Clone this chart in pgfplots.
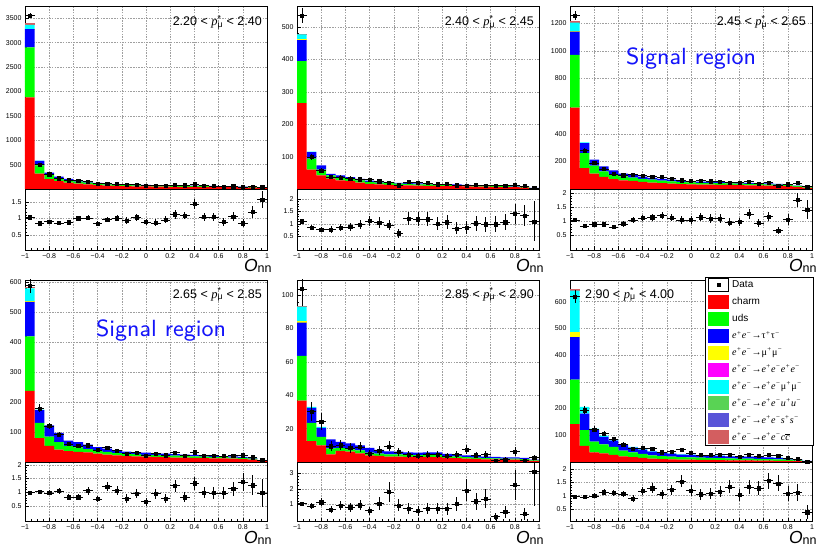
\documentclass[border=0pt]{standalone}
\usepackage{pgfplots}
\usepackage{pgfplotstable}
\pgfplotsset{compat=1.18}
\usepackage{fontspec}
\setmainfont{Liberation Sans}
\newfontfamily\serif{Liberation Serif}

\definecolor{cCharm}{RGB}{255,0,0}
\definecolor{cUds}{RGB}{0,255,0}
\definecolor{cTau}{RGB}{0,0,255}
\definecolor{cMu}{RGB}{255,255,0}
\definecolor{cEE}{RGB}{255,0,255}
\definecolor{cEmu}{RGB}{0,255,255}
\definecolor{cEu}{RGB}{89,211,84}
\definecolor{cEs}{RGB}{89,84,216}
\definecolor{cEc}{RGB}{211,94,96}
\definecolor{sigblue}{RGB}{20,20,250}

% columns: bin centre, charm, uds, tautau, mumu, eemumu, other (ee cc), data, data err, ratio, ratio err
\pgfplotstableread{
x c u t m e o d de r re
-0.96 1877 1027 370 5 84 47 3555 60 1.04 0.02
-0.88 315 171 89 0 5 0 500 22 0.86 0.04
-0.80 200 90 45 0 0 0 305 17 0.91 0.05
-0.72 160 65 30 0 0 0 222 15 0.87 0.06
-0.64 130 50 25 0 0 0 182 13.5 0.89 0.07
-0.56 110 40 20 0 0 0 172 13 1.01 0.08
-0.48 95 35 18 0 0 0 151 12.3 1.02 0.08
-0.40 80 30 16 0 0 0 107 10.3 0.85 0.08
-0.32 70 27 14 0 0 0 108 10.4 0.97 0.09
-0.24 63 25 13 0 0 0 102 10.1 1.01 0.10
-0.16 58 23 12 0 0 0 87 9.3 0.94 0.10
-0.08 54 21 11 0 0 0 89 9.4 1.04 0.11
0.00 52 20 10 0 0 0 74 8.6 0.90 0.10
0.08 50 19 10 0 0 0 69 8.3 0.87 0.10
0.16 48 18 9 0 0 0 72 8.5 0.96 0.11
0.24 46 17 9 0 0 0 81 9.0 1.13 0.13
0.32 45 17 8 0 0 0 76 8.7 1.09 0.12
0.40 44 16 8 0 0 0 98 9.9 1.44 0.15
0.48 42 15 8 0 0 0 68 8.2 1.05 0.13
0.56 40 15 7 0 0 0 65 8.1 1.05 0.13
0.64 38 14 7 0 0 0 53 7.3 0.90 0.12
0.72 36 13 6 0 0 0 58 7.6 1.06 0.14
0.80 33 12 6 0 0 0 44 6.6 0.86 0.13
0.88 28 10 5 0 0 0 52 7.2 1.20 0.17
0.96 16 6 3 0 0 0 39 6.2 1.57 0.25
}\tA
\pgfplotstableread{
x c u t m e o d de r re
-0.96 265 130 65 2 15 3 535 23 1.11 0.05
-0.88 60 34 20 0 1 0 99 10 0.85 0.09
-0.80 42 18 13 0 0 0 57 7.5 0.78 0.10
-0.72 32 10 5 0 0 0 37 6.1 0.78 0.13
-0.64 27 10 5 0 0 0 36 6.0 0.85 0.14
-0.56 24 8 5 0 0 0 33 5.7 0.88 0.15
-0.48 20 7 4 0 0 0 30 5.5 0.97 0.18
-0.40 16 6 3.5 0 0 0 28.5 5.3 1.12 0.21
-0.32 14.5 5.5 3 0 0 0 24 4.9 1.05 0.21
-0.24 13 5 3 0 0 0 20 4.5 0.95 0.21
-0.16 12 4.5 2.5 0 0 0 12 3.5 0.63 0.18
-0.08 11 4.5 2.5 0 0 0 22 4.7 1.22 0.26
0.00 10.5 4 2.5 0 0 0 20 4.5 1.19 0.27
0.08 10 4 2 0 0 0 19 4.4 1.19 0.27
0.16 9.5 3.5 2 0 0 0 15 3.9 1.00 0.26
0.24 9 3.5 2 0 0 0 15.5 3.9 1.07 0.27
0.32 8.5 3.5 2 0 0 0 11.5 3.4 0.82 0.24
0.40 8 3 2 0 0 0 11 3.3 0.85 0.26
0.48 7.5 3 1.5 0 0 0 12.4 3.5 1.03 0.30
0.56 7 2.8 1.5 0 0 0 11.2 3.3 0.99 0.30
0.64 6.5 2.5 1.5 0 0 0 10.4 3.2 0.99 0.31
0.72 6 2.5 1.3 0 0 0 10.5 3.2 1.07 0.33
0.80 5.5 2.2 1.3 0 0 0 12.7 3.6 1.41 0.40
0.88 4.5 1.8 1 0 0 0 9.7 3.1 1.33 0.43
0.96 2 0.8 0.4 0 0 0 3.5 1.9 1.10 0.80
}\tB
\pgfplotstableread{
x c u t m e o d de r re
-0.96 590 381 169 3 62 9 1255 35 1.04 0.03
-0.88 152 108 73 0 4 0 280 16.7 0.83 0.05
-0.80 111 58 43 0 0 0 188 13.7 0.89 0.07
-0.72 87 41 36 0 0 0 146 12 0.89 0.07
-0.64 72 32 31 0 0 0 108 10.4 0.80 0.08
-0.56 63 29 19 0 0 0 100 10 0.90 0.09
-0.48 58 25 17 0 0 0 104 10.2 1.04 0.10
-0.40 52 22 15 0 0 0 99 10 1.12 0.11
-0.32 47 20 13 0 0 0 91 9.5 1.14 0.12
-0.24 43 18 12 0 0 0 87 9.3 1.20 0.13
-0.16 39 17 11 0 0 0 75 8.7 1.12 0.13
-0.08 36 15 10 0 0 0 63 7.9 1.04 0.13
0.00 34 14 9 0 0 0 59 7.7 1.04 0.14
0.08 32 13 9 0 0 0 61 7.8 1.14 0.15
0.16 31 13 8 0 0 0 57 7.5 1.10 0.15
0.24 30 12 8 0 0 0 54 7.4 1.09 0.15
0.32 29 11 8 0 0 0 46 6.8 0.96 0.14
0.40 28 11 7 0 0 0 45 6.7 0.98 0.15
0.48 27 10 7 0 0 0 55 7.4 1.26 0.17
0.56 26 10 6 0 0 0 39 6.3 0.94 0.15
0.64 25 9 6 0 0 0 47 6.8 1.17 0.17
0.72 23 9 5 0 0 0 25 5.0 0.67 0.13
0.80 21 8 4 0 0 0 35 5.9 1.06 0.18
0.88 16 6 3 0 0 0 44 6.6 1.75 0.26
0.96 8 3 1 0 0 0 17 4.1 1.40 0.34
}\tC
\pgfplotstableread{
x c u t m e o d de r re
-0.96 238 182 115 3 42 3 590 24 1.00 0.04
-0.88 80 51 42 0 2 0 179 13.4 1.02 0.08
-0.80 54 31 37 0 0 0 120 11 0.98 0.09
-0.72 41 25 31 0 0 0 92 9.6 1.05 0.11
-0.64 36 18 17 0 0 0 60 7.7 0.82 0.11
-0.56 34 15 17 0 0 0 54 7.3 0.82 0.11
-0.48 32 11 15 0 0 0 56 7.5 1.06 0.14
-0.40 28 10 12 0 0 0 40 6.3 0.76 0.12
-0.32 25 9 11 0 0 0 48 6.9 1.21 0.17
-0.24 22 8 8 0 0 0 38 6.2 1.06 0.17
-0.16 20 7 8 0 0 0 28 5.3 0.78 0.15
-0.08 19 7 6 0 0 0 31 5.6 0.96 0.17
0.00 18 6 7 0 0 0 22 4.7 0.66 0.14
0.08 17 6 6 0 0 0 28 5.3 0.95 0.18
0.16 16 6 6 0 0 0 23 4.8 0.78 0.16
0.24 15 6 5 0 0 0 31 5.6 1.24 0.22
0.32 15 5 5 0 0 0 21 4.6 0.82 0.18
0.40 14 5 5 0 0 0 33 5.7 1.33 0.23
0.48 13 5 4 0 0 0 22 4.7 0.99 0.21
0.56 12 5 4 0 0 0 21 4.6 0.98 0.21
0.64 12 4 4 0 0 0 20 4.5 0.98 0.22
0.72 11 4 4 0 0 0 21 4.6 1.13 0.25
0.80 10 4 3 0 0 0 23 4.8 1.38 0.33
0.88 8 3 2 0 0 0 16 4.0 1.26 0.37
0.96 3.5 1.5 1 0 0 0 6 2.4 0.98 0.50
}\tD
\pgfplotstableread{
x c u t m e o d de r re
-0.96 36.8 26.8 19.9 1 8.5 0.6 103.6 10.2 1.06 0.11
-0.88 12.5 11 8.9 0 0.6 0 30.2 5.5 0.90 0.17
-0.80 10 5 5.5 0 0.5 0 24.3 4.9 1.15 0.24
-0.72 4.6 3.6 5.3 0 0 0 9.5 3.1 0.68 0.22
-0.64 6.6 1.9 3.6 0 0 0 10.1 3.2 0.92 0.29
-0.56 6.2 1.4 3.5 0 0 0 8.5 2.9 0.83 0.29
-0.48 5.2 1.8 3.0 0 0 0 9.1 3.0 0.96 0.32
-0.40 4.0 1.6 2.9 0 0 0 5.0 2.2 0.60 0.27
-0.32 3.6 1.4 2.2 0 0 0 7.0 2.6 1.06 0.40
-0.24 3.2 1.4 1.8 0 0 0 9.4 3.1 1.80 0.65
-0.16 3.2 1.3 1.7 0 0 0 6.0 2.4 0.94 0.38
-0.08 3.0 1.2 1.6 0 0 0 4.6 2.1 0.75 0.35
0.00 2.9 1.2 1.5 0 0 0 3.6 1.9 0.58 0.30
0.08 3.0 1.2 1.6 0 0 0 4.6 2.1 0.75 0.35
0.16 2.9 1.2 1.6 0 0 0 4.5 2.1 0.73 0.35
0.24 2.4 1.0 1.4 0 0 0 3.6 1.9 0.73 0.38
0.32 2.3 1.0 1.3 0 0 0 4.6 2.1 1.04 0.45
0.40 2.0 0.9 1.1 0 0 0 7.6 2.8 1.90 0.70
0.48 1.8 0.8 0.9 0 0 0 4.1 2.0 1.21 0.55
0.56 1.6 0.7 0.9 0 0 0 4.5 2.1 1.36 0.60
0.64 1.5 0.7 0.8 0 0 0 1.0 1.0 0.22 0.22
0.72 1.4 0.6 0.8 0 0 0 1.5 1.2 0.52 0.40
0.80 1.4 0.6 0.8 0 0 0 6.2 2.5 2.24 0.95
0.88 1.2 0.5 0.8 0 0 0 1.0 1.0 0.39 0.39
0.96 0.6 0.3 0.5 0 0 0 2.6 1.6 3.08 2.20
}\tE
\pgfplotstableread{
x c u t m e o d de r re
-0.96 142 166 159 19 155 5 619 25 0.97 0.04
-0.88 60 59 62 0 25 0 194 14 0.95 0.07
-0.80 36 40 43 0 6 0 122 11 0.99 0.09
-0.72 32 34 28 0 5 0 106 10.3 1.13 0.11
-0.64 27 30 23 0 4 0 86 9.3 1.10 0.12
-0.56 21 22 20 0 3 0 66 8.1 1.06 0.13
-0.48 18 18 18 0 3 0 50 7.1 0.89 0.13
-0.40 15 15 16 0 2 0 53 7.3 1.18 0.16
-0.32 13 12 14 0 2 0 50 7.1 1.28 0.18
-0.24 11 11 12 0 2 0 37 6.1 1.06 0.17
-0.16 10 10 11 0 1.5 0 40 6.3 1.22 0.19
-0.08 9 9 10 0 1 0 46 6.8 1.54 0.23
0.00 8.5 8.5 10 0 1 0 34 5.8 1.19 0.20
0.08 8 8 9 0 1 0 26 5.1 1.05 0.21
0.16 7.5 7.5 9 0 1 0 26 5.1 1.08 0.21
0.24 7 7.5 8.5 0 1 0 27 5.2 1.15 0.22
0.32 6.5 7 8 0 0.5 0 28 5.3 1.33 0.25
0.40 6 7 7.5 0 0.5 0 21 4.6 1.03 0.23
0.48 6 6.5 7.5 0 0.5 0 27 5.2 1.33 0.26
0.56 5.5 6 6.5 0 0.5 0 23 4.8 1.28 0.27
0.64 5 6 6 0 0.5 0 26 5.1 1.56 0.31
0.72 4.5 5.5 5.5 0 0.5 0 24 4.9 1.46 0.30
0.80 4 4.5 4.5 0 0.5 0 15 3.9 1.08 0.28
0.88 3 3 3 0 0.5 0 11 3.3 1.11 0.33
0.96 1.5 1.5 1.5 0 0 0 2 1.4 0.37 0.26
}\tF

\tikzset{
  ttl/.style={inner sep=0pt, font=\fontsize{12.5}{14}\selectfont},
  sig/.style={inner sep=0pt, anchor=base, text=sigblue},
}
\pgfplotsset{
  rbase/.style={scale only axis, width=242pt, xmin=-1, xmax=1, enlargelimits=false,
    scaled ticks=false, clip mode=individual,
    axis line style={line width=0.6pt, black},
    tick align=inside, tick pos=left,
    xtick={-1,-0.8,-0.6,-0.4,-0.2,0,0.2,0.4,0.6,0.8,1}, minor x tick num=3,
    major tick length=3.5pt, minor tick length=1.8pt,
    tick style={line width=0.4pt, black},
    grid=major, major grid style={gray!75, dash pattern=on 1.5pt off 1.2pt, line width=0.45pt},
    tick label style={font=\fontsize{7}{8}\selectfont},
    /pgf/number format/assume math mode=true, /pgf/number format/1000 sep={}},
  rmain/.style={rbase, ymin=0, xticklabels={}, minor y tick num=4, ybar stacked, bar width=0.08},
  rratio/.style={rbase, minor y tick num=4,
    xticklabels={−1,−0.8,−0.6,−0.4,−0.2,0,0.2,0.4,0.6,0.8,1}},
  rover/.style={scale only axis, width=242pt, xmin=-1, xmax=1, ymin=0, hide axis,
    enlargelimits=false, clip mode=individual},
  datapts/.style={only marks, mark=square*, mark size=1.6pt, black,
    mark options={fill=black, draw=black},
    error bars/.cd, x dir=both, x fixed=0.04, y dir=both, y explicit, error mark=none,
    error bar style={line width=0.6pt, black}},
  sw/.style={legend image code/.code={\fill[#1] (0pt,-6.5pt) rectangle (20pt,6.5pt);}},
}

\newcommand{\stackbars}[1]{%
  \addplot[fill=cCharm, draw=none] table[x=x,y=c]{#1};
  \addplot[fill=cUds, draw=none] table[x=x,y=u]{#1};
  \addplot[fill=cTau, draw=none] table[x=x,y=t]{#1};
  \addplot[fill=cMu, draw=none] table[x=x,y=m]{#1};
  \addplot[fill=cEmu, draw=none] table[x=x,y=e]{#1};
  \addplot[fill=cEc, draw=none] table[x=x,y=o]{#1};
}
\newcommand{\ptitle}[2]{#1 < {\serif\itshape p}\rlap{\textsuperscript{*}}\textsubscript{μ} < #2}
\newcommand{\onn}{{\fontsize{17.5}{18}\selectfont\itshape O}\raisebox{-1pt}{\fontsize{12.5}{13}\selectfont nn}}
\newcommand{\onnnode}{\node[anchor=base east, inner sep=0pt, yshift=-22pt] at (rel axis cs:1.02,0) {\onn};}
\newcommand{\sigtext}{\scalebox{2.6}{\sffamily\fontsize{9}{10}\selectfont Signal region}}
\newcommand{\lgbox}[1]{\makebox[78pt][l]{#1}}
\newcommand{\ee}{e\textsuperscript{+}e\textsuperscript{−}}
\newcommand{\lgs}[1]{\lgbox{\serif\itshape \ee→#1}}

\begin{document}
\begin{tikzpicture}
\useasboundingbox (0,0) rectangle (821pt,546pt);

% ---------- panel 1 ----------
\begin{axis}[rmain, at={(25pt,357pt)}, anchor=south west, height=183pt, ymax=3750,
  ytick={500,1000,1500,2000,2500,3000,3500}]
\stackbars{\tA}
\node[ttl, anchor=base east] at (rel axis cs:0.979,0.891) {\ptitle{2.20}{2.40}};
\end{axis}
\begin{axis}[rover, at={(25pt,357pt)}, anchor=south west, height=183pt, ymax=3750]
\addplot[datapts] table[x=x,y=d,y error=de]{\tA};
\end{axis}
\begin{axis}[rratio, at={(25pt,296pt)}, anchor=south west, height=61pt, ymin=0.05, ymax=1.89,
  ytick={0.5,1,1.5}]
\addplot[datapts] table[x=x,y=r,y error=re]{\tA};
\onnnode
\end{axis}

% ---------- panel 2 ----------
\begin{axis}[rmain, at={(297pt,357pt)}, anchor=south west, height=183pt, ymax=565,
  ytick={100,200,300,400,500}]
\stackbars{\tB}
\node[ttl, anchor=base east] at (rel axis cs:0.979,0.891) {\ptitle{2.40}{2.45}};
\end{axis}
\begin{axis}[rover, at={(297pt,357pt)}, anchor=south west, height=183pt, ymax=565]
\addplot[datapts] table[x=x,y=d,y error=de]{\tB};
\end{axis}
\begin{axis}[rratio, at={(297pt,296pt)}, anchor=south west, height=61pt, ymin=-0.04, ymax=2.4,
  ytick={0.5,1,1.5,2}]
\addplot[datapts] table[x=x,y=r,y error=re]{\tB};
\onnnode
\end{axis}

% ---------- panel 3 ----------
\begin{axis}[rmain, at={(570pt,357pt)}, anchor=south west, height=183pt, ymax=1325,
  ytick={200,400,600,800,1000,1200}]
\stackbars{\tC}
\node[ttl, anchor=base east] at (rel axis cs:0.975,0.891) {\ptitle{2.45}{2.65}};
\node[sig] at (rel axis cs:0.5,0.678) {\sigtext};
\end{axis}
\begin{axis}[rover, at={(570pt,357pt)}, anchor=south west, height=183pt, ymax=1325]
\addplot[datapts] table[x=x,y=d,y error=de]{\tC};
\end{axis}
\begin{axis}[rratio, at={(570pt,296pt)}, anchor=south west, height=61pt, ymin=-0.02, ymax=2.14,
  ytick={0.5,1,1.5,2}]
\addplot[datapts] table[x=x,y=r,y error=re]{\tC};
\onnnode
\end{axis}

% ---------- panel 4 ----------
\begin{axis}[rmain, at={(25pt,84pt)}, anchor=south west, height=182pt, ymax=608,
  ytick={100,200,300,400,500,600}]
\stackbars{\tD}
\node[ttl, anchor=base east] at (rel axis cs:0.979,0.90) {\ptitle{2.65}{2.85}};
\node[sig] at (rel axis cs:0.562,0.687) {\sigtext};
\end{axis}
\begin{axis}[rover, at={(25pt,84pt)}, anchor=south west, height=182pt, ymax=608]
\addplot[datapts] table[x=x,y=d,y error=de]{\tD};
\end{axis}
\begin{axis}[rratio, at={(25pt,25pt)}, anchor=south west, height=59pt, ymin=-0.04, ymax=2.1,
  ytick={0.5,1,1.5,2}]
\addplot[datapts] table[x=x,y=r,y error=re]{\tD};
\onnnode
\end{axis}

% ---------- panel 5 ----------
\begin{axis}[rmain, at={(297pt,84pt)}, anchor=south west, height=182pt, ymax=109,
  ytick={20,40,60,80,100}]
\stackbars{\tE}
\node[ttl, anchor=base east] at (rel axis cs:0.979,0.90) {\ptitle{2.85}{2.90}};
\end{axis}
\begin{axis}[rover, at={(297pt,84pt)}, anchor=south west, height=182pt, ymax=109]
\addplot[datapts] table[x=x,y=d,y error=de]{\tE};
\end{axis}
\begin{axis}[rratio, at={(297pt,25pt)}, anchor=south west, height=59pt, ymin=-0.05, ymax=3.7,
  ytick={1,2,3}]
\addplot[datapts] table[x=x,y=r,y error=re]{\tE};
\onnnode
\end{axis}

% ---------- panel 6 ----------
\begin{axis}[rmain, at={(570pt,84pt)}, anchor=south west, height=182pt, ymax=681,
  ytick={100,200,300,400,500,600}]
\stackbars{\tF}
\node[ttl, anchor=base west] at (rel axis cs:0.062,0.90) {\ptitle{2.90}{4.00}};
\end{axis}
\begin{axis}[rover, at={(570pt,84pt)}, anchor=south west, height=182pt, ymax=681,
  legend cell align=left,
  legend style={at={(axis description cs:1.008,1.017)}, anchor=north east,
    draw=black, line width=0.5pt, fill=white, inner xsep=3pt, inner ysep=1pt,
    row sep=3.4pt, column sep=3pt, nodes={inner sep=0.5pt},
    font=\fontsize{10}{11}\selectfont}]
\addplot[forget plot, datapts] table[x=x,y=d,y error=de]{\tF};
\addlegendimage{legend image code/.code={\path (0pt,-6.5pt) rectangle (20pt,6.5pt); \fill[black] (8.4pt,-1.6pt) rectangle (11.6pt,1.6pt);}}
\addlegendentry{\lgbox{Data}}
\addlegendimage{sw=cCharm}
\addlegendentry{\lgbox{charm}}
\addlegendimage{sw=cUds}
\addlegendentry{\lgbox{uds}}
\addlegendimage{sw=cTau}
\addlegendentry{\lgs{{\upshape τ}\textsuperscript{+}{\upshape τ}\textsuperscript{−}}}
\addlegendimage{sw=cMu}
\addlegendentry{\lgs{{\upshape μ}\textsuperscript{+}{\upshape μ}\textsuperscript{−}}}
\addlegendimage{sw=cEE}
\addlegendentry{\lgs{\ee\ee}}
\addlegendimage{sw=cEmu}
\addlegendentry{\lgs{\ee{\upshape μ}\textsuperscript{+}{\upshape μ}\textsuperscript{−}}}
\addlegendimage{sw=cEu}
\addlegendentry{\lgs{\ee u\textsuperscript{+}u\textsuperscript{−}}}
\addlegendimage{sw=cEs}
\addlegendentry{\lgs{\ee s\textsuperscript{+}s\textsuperscript{−}}}
\addlegendimage{sw=cEc}
\addlegendentry{\lgs{\ee c$\overline{\mbox{c}}$}}
\end{axis}
\begin{axis}[rratio, at={(570pt,25pt)}, anchor=south west, height=59pt, ymin=0.04, ymax=2.27,
  ytick={0.5,1,1.5,2}]
\addplot[datapts] table[x=x,y=r,y error=re]{\tF};
\onnnode
\end{axis}
\end{tikzpicture}
\end{document}
